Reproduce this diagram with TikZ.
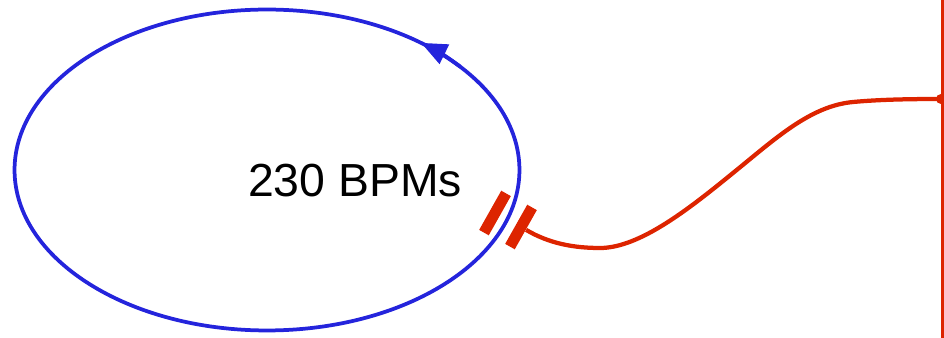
\documentclass[tikz,border=0pt]{standalone}
\usepackage{fontspec}
\setmainfont{Liberation Sans}
\usetikzlibrary{arrows.meta,shapes.geometric}
\definecolor{ringblue}{RGB}{36,36,220}
\definecolor{tapred}{RGB}{221,36,0}
\begin{document}
\begin{tikzpicture}[
        x=0.02cm,
        y=0.02cm,
        ring/.style={
            ellipse,
            draw=ringblue,
            line width=0.075cm,
            minimum width=10.1cm,
            minimum height=6.42cm,
            inner sep=0pt
        },
        countlabel/.style={
            font=\fontsize{26.4pt}{30pt}\selectfont,
            inner sep=0pt
        },
        gapbar/.style={
            rectangle,
            fill=tapred,
            minimum width=0.9cm,
            minimum height=0.22cm,
            inner sep=0pt,
            rotate=60.6
        },
        flow/.style={-{Triangle[length=0.52cm,width=0.42cm]}, ringblue, line width=0.075cm},
        cable/.style={tapred, line width=0.085cm}
    ]

        \useasboundingbox (0,0) rectangle (944,338);

        \node[ring] (ring) at (267,168) {};
        \node[countlabel] (count) at (355,157) {230 BPMs};
        \node[gapbar] (gapA) at (495,125) {};
        \node[gapbar] (gapB) at (521,111) {};
        \coordinate (tap) at (941,239);
        \coordinate (railtop) at (942,338);
        \coordinate (railbot) at (942,0);

        \draw[flow] (ring.center) ++(40:252.5 and 160.5) arc[start angle=40, end angle=52.4, x radius=252.5, y radius=160.5];
        \draw[tapred, line width=0.06cm] (railtop) -- (railbot);
        \draw[cable] (gapB.south) .. controls (550,94) and (575,90) .. (600,90)
            .. controls (640,90) and (690,130) .. (733,165)
            .. controls (775,199) and (810,232) .. (853,236)
            .. controls (880,238.5) and (910,239) .. (tap);
        \fill[tapred] (tap) circle[radius=5];

    \end{tikzpicture}
\end{document}
